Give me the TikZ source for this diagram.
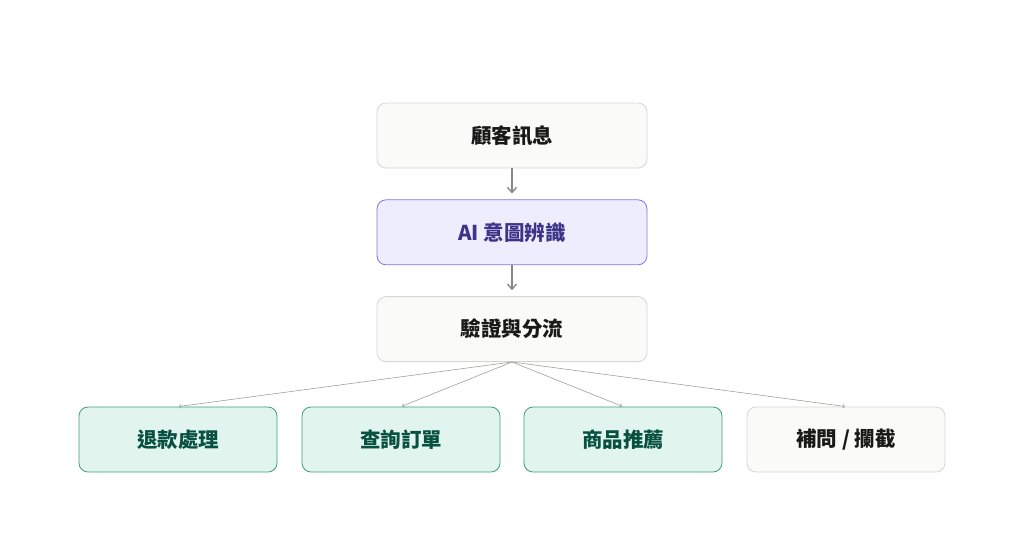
\documentclass[tikz,border=0pt]{standalone}
\usepackage{fontspec}
\setmainfont{Noto Sans CJK TC}
\usetikzlibrary{arrows.meta}
\usetikzlibrary{positioning}
\definecolor{plainfill}{HTML}{FAFAF8}
\definecolor{plainline}{HTML}{D6D6D2}
\definecolor{aifill}{HTML}{EEEDFE}
\definecolor{ailine}{HTML}{7F77DD}
\definecolor{aitext}{HTML}{3C3489}
\definecolor{greenfill}{HTML}{E1F5EE}
\definecolor{greenline}{HTML}{3E9E7E}
\definecolor{greentext}{HTML}{085041}
\definecolor{arrowgray}{HTML}{888780}
\begin{document}
\begin{tikzpicture}[
		x=1pt, y=-1pt,
		node distance=31pt,
		block/.style={draw=plainline, fill=plainfill, rounded corners=9pt, line width=0.8pt,
			minimum height=65pt, minimum width=270pt, font=\bfseries\fontsize{20.5}{24}\selectfont, text=black!90},
		leaf/.style={block, minimum width=198pt},
		ai/.style={draw=ailine, fill=aifill, text=aitext},
		green/.style={draw=greenline, fill=greenfill, text=greentext},
		arrow/.style={-{Straight Barb[length=5pt,width=9pt]}, draw=arrowgray, line width=1.4pt, shorten >=6pt},
		fan/.style={-{Straight Barb[length=2pt,width=4pt]}, draw=arrowgray!80, line width=0.6pt, shorten >=1pt},
	]
	\useasboundingbox (0,0) rectangle (1024,542);
	\node[block] (msg) at (512,135.5) {顧客訊息};
	\node[block, ai, below=of msg] (intent) {AI 意圖辨識};
	\node[block, below=of intent] (route) {驗證與分流};
	\node[leaf, green] (refund) at (178,439.5) {退款處理};
	\node[leaf, green] (order) at (401,439.5) {查詢訂單};
	\node[leaf, green] (recommend) at (623,439.5) {商品推薦};
	\node[leaf] (ask) at (846,439.5) {補問 / 攔截};

	\draw[arrow] (msg) -- (intent);
	\draw[arrow] (intent) -- (route);
	\foreach \leafname in {refund, order, recommend, ask}
		\draw[fan] (route.south) -- (\leafname.north);
\end{tikzpicture}
\end{document}
